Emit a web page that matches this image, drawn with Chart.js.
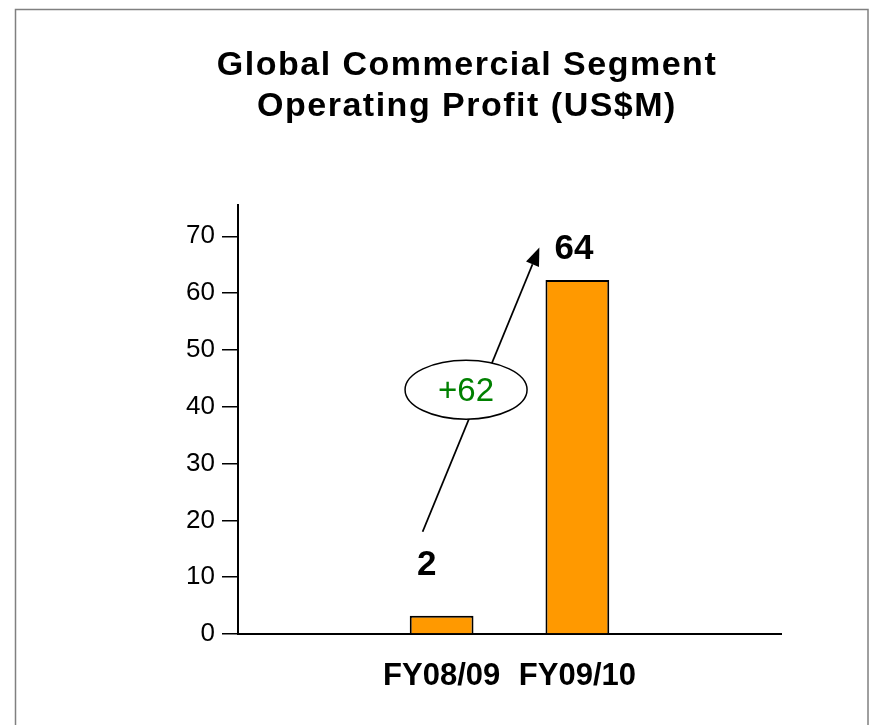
<!DOCTYPE html>
<html><head><meta charset="utf-8">
<script src="https://cdn.jsdelivr.net/npm/chart.js@4.4.0/dist/chart.umd.min.js"></script>
<style>html,body{margin:0;padding:0;background:#fff}#wrap{width:873px;height:725px;position:relative}</style>
</head><body><div id="wrap"><canvas id="c"></canvas></div>
<script>
// ---- data ----
const categories = ['', 'FY08/09', 'FY09/10', ''];
const profitValues = [null, 3.2, 62.3, null];
const valueLabels = ['', '2', '64', ''];
const yTickValues = [0, 10, 20, 30, 40, 50, 60, 70];
const titleLines = ['Global Commercial Segment', 'Operating Profit (US$M)'];
const changeLabel = '+62';
// annotation anchors (category index, value)
const arrowFrom = [0.86, 18];
const arrowTo = [1.72, 68];
const bubbleAt = [1.18, 43];

const FAMILY = "'Liberation Sans', Arial, sans-serif";
Chart.defaults.font.family = FAMILY;
Chart.defaults.color = '#000';

const framePlugin = {
  id: 'frame',
  beforeDraw(chart) {
    const ctx = chart.ctx;
    ctx.save();
    ctx.fillStyle = '#fff';
    ctx.fillRect(0, 0, chart.width, chart.height);
    ctx.strokeStyle = '#808080';
    ctx.lineWidth = 1.5;
    ctx.strokeRect(15.5, 9.5, 852.5, 800);
    ctx.restore();
  }
};

const titlePlugin = {
  id: 'bigTitle',
  afterDraw(chart, args, opts) {
    const ctx = chart.ctx;
    ctx.save();
    ctx.font = 'bold 34px ' + FAMILY;
    if ('letterSpacing' in ctx) ctx.letterSpacing = '1.5px';
    ctx.fillStyle = '#000';
    ctx.textAlign = 'center';
    ctx.textBaseline = 'middle';
    titleLines.forEach((t, i) => ctx.fillText(t, opts.x, opts.y + i * opts.lineGap));
    ctx.restore();
  }
};

const annotPlugin = {
  id: 'annot',
  afterDatasetsDraw(chart, args, opts) {
    const ctx = chart.ctx;
    const xs = chart.scales.x, ys = chart.scales.y;
    const meta = chart.getDatasetMeta(0);
    ctx.save();
    // value labels
    ctx.font = 'bold 35px ' + FAMILY;
    ctx.fillStyle = '#000';
    ctx.textAlign = 'center';
    ctx.textBaseline = 'middle';
    meta.data.forEach((bar, i) => {
      if (!valueLabels[i]) return;
      ctx.fillText(valueLabels[i], bar.x + opts.shift[i], bar.y - opts.lift[i]);
    });
    // arrow
    const x1 = xs.getPixelForValue(arrowFrom[0]), y1 = ys.getPixelForValue(arrowFrom[1]);
    const x2 = xs.getPixelForValue(arrowTo[0]), y2 = ys.getPixelForValue(arrowTo[1]);
    const ang = Math.atan2(y2 - y1, x2 - x1);
    const hl = 18, hw = 7;
    ctx.strokeStyle = '#000';
    ctx.lineWidth = 1.8;
    ctx.beginPath();
    ctx.moveTo(x1, y1);
    ctx.lineTo(x2 - hl * Math.cos(ang), y2 - hl * Math.sin(ang));
    ctx.stroke();
    ctx.beginPath();
    ctx.moveTo(x2, y2);
    ctx.lineTo(x2 - hl * Math.cos(ang) + hw * Math.sin(ang), y2 - hl * Math.sin(ang) - hw * Math.cos(ang));
    ctx.lineTo(x2 - hl * Math.cos(ang) - hw * Math.sin(ang), y2 - hl * Math.sin(ang) + hw * Math.cos(ang));
    ctx.closePath();
    ctx.fillStyle = '#000';
    ctx.fill();
    // bubble
    const bx = xs.getPixelForValue(bubbleAt[0]), by = ys.getPixelForValue(bubbleAt[1]);
    ctx.beginPath();
    ctx.ellipse(bx, by, 61, 29.5, 0, 0, Math.PI * 2);
    ctx.fillStyle = '#fff';
    ctx.fill();
    ctx.lineWidth = 1.5;
    ctx.stroke();
    ctx.font = '33px ' + FAMILY;
    ctx.fillStyle = '#008000';
    ctx.fillText(changeLabel, bx, by + 2);
    ctx.restore();
  }
};

new Chart(document.getElementById('c'), {
  type: 'bar',
  data: {
    labels: categories,
    datasets: [{
      data: profitValues,
      backgroundColor: '#FF9900',
      borderColor: '#000',
      borderWidth: 2,
      barPercentage: 0.47,
      categoryPercentage: 1
    }]
  },
  plugins: [framePlugin, annotPlugin, titlePlugin],
  options: {
    responsive: true,
    maintainAspectRatio: false,
    animation: false,
    events: [],
    layout: { padding: { left: 0, right: 92, top: 205, bottom: 0 } },
    plugins: {
      legend: { display: false },
      tooltip: { enabled: false },
      title: { display: false },
      bigTitle: { x: 467, y: 66, lineGap: 41 },
      annot: { lift: [0, 50, 30.5, 0], shift: [0, -15, -3.5, 0] }
    },
    scales: {
      x: {
        grid: { display: false },
        border: { display: true, color: '#000', width: 2 },
        ticks: { color: '#000', font: { size: 31, weight: 'bold' }, padding: 16, maxRotation: 0, autoSkip: false },
        afterFit(s) { s.height = 91; }
      },
      y: {
        min: 0,
        max: 75.5,
        grid: { drawOnChartArea: false, drawTicks: true, tickLength: 16, color: '#000', lineWidth: 1.5 },
        border: { display: true, color: '#000', width: 2 },
        ticks: { color: '#000', font: { size: 26 }, padding: 7 },
        afterBuildTicks(s) { s.ticks = yTickValues.map(v => ({ value: v })); },
        afterFit(s) { s.width = 238; }
      }
    }
  }
});
</script></body></html>
